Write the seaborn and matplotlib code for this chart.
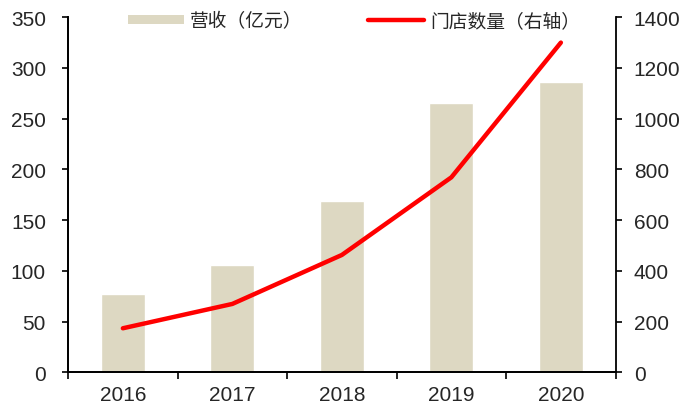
import numpy as np
import pandas as pd
import matplotlib
matplotlib.use("Agg")
import matplotlib.pyplot as plt
import seaborn as sns
from matplotlib.patches import Patch
from matplotlib.lines import Line2D

# data
years = ["2016", "2017", "2018", "2019", "2020"]
revenue = [77, 106, 169, 265, 286]          # 营收（亿元）, left axis
stores = [174, 270, 463, 769, 1300]         # 门店数量, right axis

sns.set_style("white")
plt.rcParams["font.family"] = ["Liberation Sans", "Noto Sans CJK SC", "DejaVu Sans"]

bar_color = "#DDD8C2"
line_color = "#FF0000"

df = pd.DataFrame({"year": years, "revenue": revenue, "stores": stores})

fig = plt.figure(figsize=(6.81, 4.14), dpi=100)
ax = fig.add_axes([0.1, 0.098, 0.804, 0.858])

sns.barplot(data=df, x="year", y="revenue", color=bar_color, width=0.4,
            saturation=1, ax=ax)
ax2 = ax.twinx()
sns.lineplot(data=df, x="year", y="stores", color=line_color, linewidth=3.2,
             ax=ax2, sort=False)

ax.set_xlim(-0.5, len(years) - 0.5)
ax.set_ylim(0, 350)
ax2.set_ylim(0, 1400)
ax.set_yticks(np.arange(0, 351, 50))
ax2.set_yticks(np.arange(0, 1401, 200))

# ticks between categories, labels at category centres
ax.set_xticks(np.arange(-0.5, len(years), 1))
ax.set_xticklabels([])
ax.set_xticks(np.arange(len(years)), minor=True)
ax.set_xticklabels(years, minor=True)
ax.tick_params(axis="x", which="major", direction="out", length=5, width=1.2,
               color="black", bottom=True)
ax.tick_params(axis="x", which="minor", length=0, pad=9, labelsize=15)
ax.tick_params(axis="y", direction="out", length=4, width=1.2, color="black",
               left=True, pad=12, labelsize=15)
ax2.tick_params(axis="y", direction="out", length=4, width=1.2, color="black",
                right=True, pad=9, labelsize=15)

ax.set_xlabel("")
ax.set_ylabel("")
ax2.set_xlabel("")
ax2.set_ylabel("")

for a in (ax, ax2):
    a.spines["top"].set_visible(False)
    for s in ("left", "right", "bottom"):
        a.spines[s].set_color("black")
        a.spines[s].set_linewidth(1.3)
ax.spines["right"].set_visible(False)

handles = [Patch(facecolor=bar_color, edgecolor="none"),
           Line2D([0], [0], color=line_color, linewidth=3.2)]
labels = ["营收（亿元）", "门店数量（右轴）"]
fig.legend(handles, labels, loc="center left", bbox_to_anchor=(0.188, 0.947),
           bbox_transform=fig.transFigure, ncol=2, frameon=False,
           fontsize=13.5, handlelength=3.0, handleheight=0.4,
           handletextpad=0.3, columnspacing=3.5, borderpad=0, borderaxespad=0)

fig.savefig("out.png", dpi=100)
